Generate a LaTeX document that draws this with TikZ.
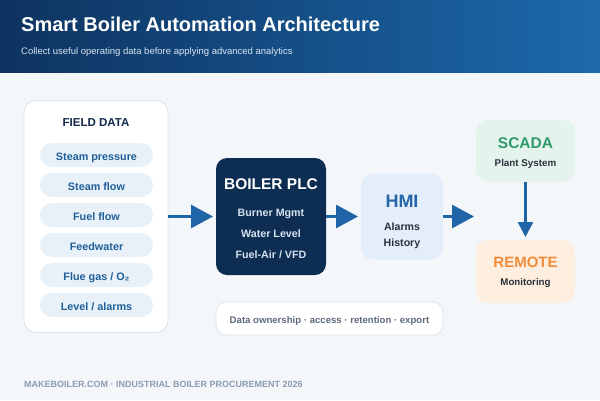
\documentclass[tikz,border=0pt]{standalone}
\usepackage{fontspec}
\setmainfont{Liberation Sans}
\usetikzlibrary{arrows.meta}
\definecolor{bg}{HTML}{F4F7FA}
\definecolor{hdrL}{HTML}{0E3360}
\definecolor{hdrR}{HTML}{1C69AC}
\definecolor{navy}{HTML}{13294B}
\definecolor{pillfill}{HTML}{E9F1F8}
\definecolor{pilltext}{HTML}{1F5F99}
\definecolor{boxline}{HTML}{DDE4EC}
\definecolor{arrowc}{HTML}{1F64A6}
\definecolor{plcfill}{HTML}{0E2D52}
\definecolor{plctext}{HTML}{D5E2F0}
\definecolor{hmifill}{HTML}{E3EEFA}
\definecolor{hmititle}{HTML}{2566AA}
\definecolor{darktext}{HTML}{2A313C}
\definecolor{scadafill}{HTML}{E4F4EC}
\definecolor{scadatitle}{HTML}{2F9B6B}
\definecolor{remfill}{HTML}{FDEEDF}
\definecolor{remtitle}{HTML}{F08C3A}
\definecolor{owntext}{HTML}{5F6B7A}
\definecolor{foottext}{HTML}{8A9BB0}
\definecolor{subtext}{HTML}{D6E4F2}
\newcommand{\fsz}[1]{\fontsize{#1}{#1}\selectfont}
\tikzset{
  box/.style={rectangle, rounded corners=#1, inner sep=0pt, outer sep=0pt},
  box/.default=11pt,
  pill/.style={rectangle, rounded corners=12pt, fill=pillfill, minimum width=113pt, minimum height=24pt, inner sep=0pt},
  pilltxt/.style={anchor=base, inner sep=0pt, text=pilltext, font=\fsz{10.8}\bfseries},
  arr/.style={draw=arrowc, line width=3pt, -{Triangle[length=22pt,width=23pt]}},
  arrsmall/.style={draw=arrowc, line width=2.6pt, -{Triangle[length=15pt,width=15pt]}},
  txt/.style={anchor=base, inner sep=0pt},
}
\begin{document}
\begin{tikzpicture}[x=1pt,y=-1pt]
\useasboundingbox (0,0) rectangle (600,400);
\fill[bg] (0,0) rectangle (600,400);
\shade[left color=hdrL, right color=hdrR] (0,0) rectangle (600,72);
\node[txt, anchor=base west, text=white, font=\fsz{20}\bfseries] (title) at (21,31.5) {Smart Boiler Automation Architecture};
\node[txt, anchor=base west, text=subtext, font=\fsz{9.5}] (subtitle) at (21,54.5) {Collect useful operating data before applying advanced analytics};

% field data
\node[box=12pt, fill=white, draw=boxline, line width=0.8pt, minimum width=144pt, minimum height=232pt] (field) at (96,216.5) {};
\node[txt, text=navy, font=\fsz{11.5}\bfseries] (fieldtitle) at (96,126) {FIELD DATA};
\node[pill] (p1) at (96.5,155) {};
\node[pill] (p2) at (96.5,185) {};
\node[pill] (p3) at (96.5,215) {};
\node[pill] (p4) at (96.5,245) {};
\node[pill] (p5) at (96.5,275) {};
\node[pill] (p6) at (96.5,305) {};
\node[pilltxt] (t1) at (96.5,160.2) {Steam pressure};
\node[pilltxt] (t2) at (96.5,190.2) {Steam flow};
\node[pilltxt] (t3) at (96.5,220.2) {Fuel flow};
\node[pilltxt] (t4) at (96.5,250.2) {Feedwater};
\node[pilltxt] (t5) at (96.5,280.2) {Flue gas / O₂};
\node[pilltxt] (t6) at (96.5,310.2) {Level / alarms};

% PLC
\node[box=11pt, fill=plcfill, minimum width=110pt, minimum height=117pt] (plc) at (271,216.5) {};
\node[txt, text=white, font=\fsz{15.5}\bfseries] (plct) at (271,189.3) {BOILER PLC};
\node[txt, text=plctext, font=\fsz{10.7}\bfseries] (plc1) at (271,216.7) {Burner Mgmt};
\node[txt, text=plctext, font=\fsz{10.7}\bfseries] (plc2) at (271,237.7) {Water Level};
\node[txt, text=plctext, font=\fsz{10.7}\bfseries] (plc3) at (271,258.3) {Fuel-Air / VFD};

% HMI
\node[box=12pt, fill=hmifill, minimum width=82pt, minimum height=86pt] (hmi) at (402,216.5) {};
\node[txt, text=hmititle, font=\fsz{18}\bfseries] (hmit) at (402,207.3) {HMI};
\node[txt, text=darktext, font=\fsz{10.6}\bfseries] (hmi1) at (402,230) {Alarms};
\node[txt, text=darktext, font=\fsz{10.6}\bfseries] (hmi2) at (402,246) {History};

% SCADA
\node[box=12pt, fill=scadafill, minimum width=99pt, minimum height=62pt] (scada) at (525.5,151) {};
\node[txt, text=scadatitle, font=\fsz{15.5}\bfseries] (scadat) at (525.5,148.3) {SCADA};
\node[txt, text=darktext, font=\fsz{9.8}\bfseries] (scada1) at (525.5,166.7) {Plant System};

% REMOTE
\node[box=12pt, fill=remfill, minimum width=99pt, minimum height=63pt] (remote) at (525.5,271.5) {};
\node[txt, text=remtitle, font=\fsz{15}\bfseries] (remt) at (525.5,267.3) {REMOTE};
\node[txt, text=darktext, font=\fsz{9.7}\bfseries] (rem1) at (525.5,285.7) {Monitoring};

% ownership
\node[box=10pt, fill=white, draw=boxline, line width=0.8pt, minimum width=227pt, minimum height=33pt] (own) at (329.5,318.5) {};
\node[txt, text=owntext, font=\fsz{9.6}\bfseries] (ownt) at (329.5,323.3) {Data ownership · access · retention · export};

% footer
\node[txt, anchor=base west, text=foottext, font=\fsz{9}\bfseries] (footer) at (24,387.3) {MAKEBOILER.COM · INDUSTRIAL BOILER PROCUREMENT 2026};

% connectors
\coordinate (a3end) at (474,216.5);
\draw[arr, shorten >=3pt] (field.east) -- (plc.west);
\draw[arr, shorten >=3pt] (plc.east) -- (hmi.west);
\draw[arr] (hmi.east) -- (a3end);
\draw[arrsmall, shorten >=3pt] (scada.south) -- (remote.north);
\end{tikzpicture}
\end{document}
